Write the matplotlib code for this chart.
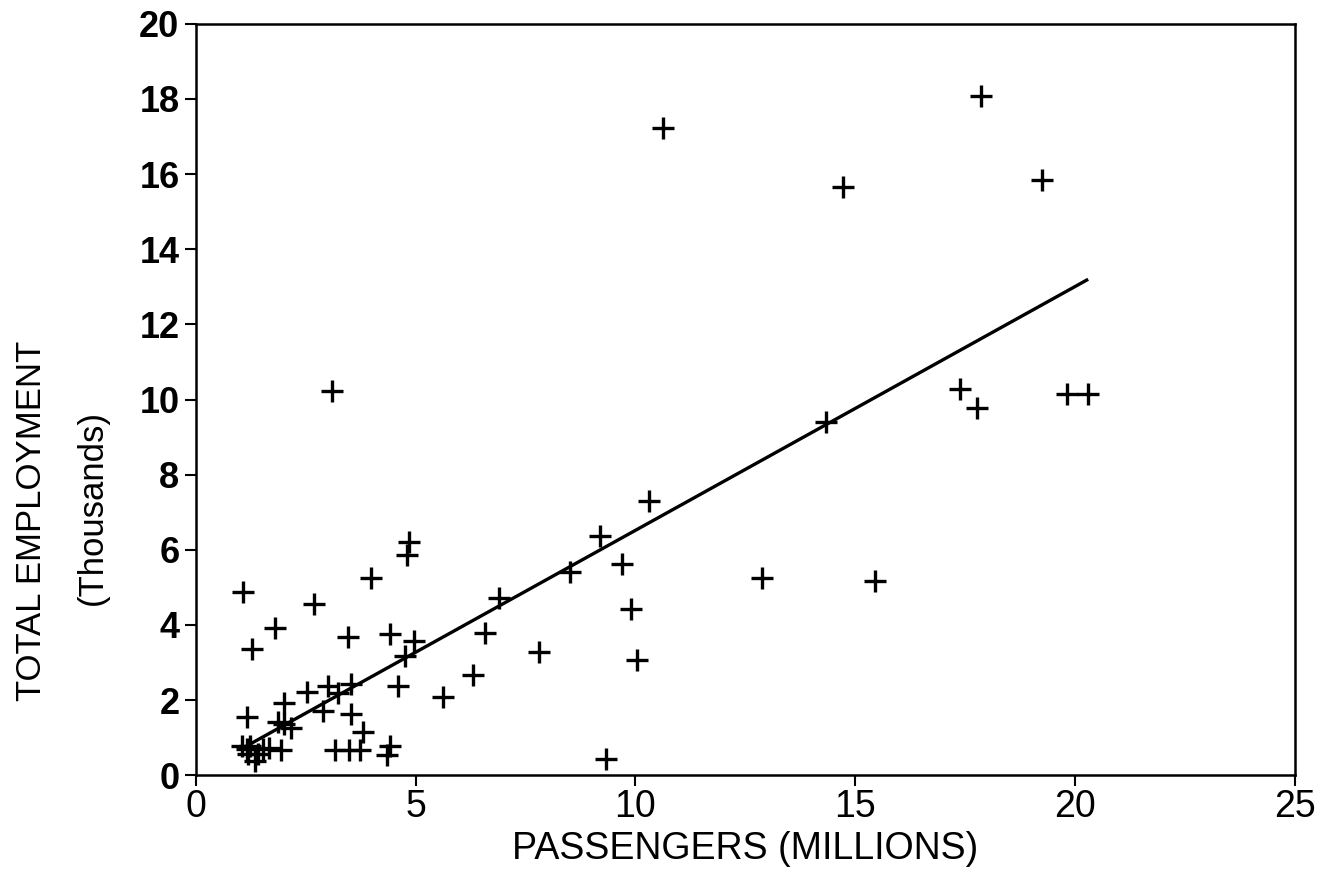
import matplotlib
matplotlib.use('Agg')
import matplotlib.pyplot as plt

# passengers (millions) vs total employment (thousands)
passengers = [10.63, 14.73, 17.87, 19.26, 17.39, 17.77, 19.83, 20.30,
              3.10, 14.33, 12.87, 15.45, 10.30, 9.19, 9.70, 8.52, 9.89, 10.03,
              6.89, 6.58, 7.81, 6.31, 5.63, 9.32,
              1.06, 1.80, 1.27, 2.69, 3.98, 4.85, 4.79, 3.45, 4.42, 4.97, 4.76,
              4.59, 3.53, 3.00, 3.22, 2.52, 2.01, 2.89, 3.52, 1.15, 1.86, 1.99,
              2.16, 3.79, 3.47, 3.17, 3.72, 4.42, 4.34, 1.94, 1.04, 1.15, 1.23,
              1.53, 1.42, 1.33, 1.19, 1.66]
employment = [17.24, 15.67, 18.07, 15.85, 10.29, 9.78, 10.15, 10.15,
              10.24, 9.39, 5.24, 5.16, 7.31, 6.37, 5.62, 5.42, 4.42, 3.06,
              4.73, 3.80, 3.28, 2.67, 2.09, 0.43,
              4.88, 3.91, 3.36, 4.56, 5.26, 6.21, 5.85, 3.68, 3.75, 3.57, 3.17,
              2.38, 2.44, 2.38, 2.19, 2.21, 1.93, 1.70, 1.63, 1.56, 1.43, 1.36,
              1.27, 1.14, 0.68, 0.68, 0.68, 0.78, 0.53, 0.68, 0.77, 0.70, 0.79,
              0.70, 0.56, 0.38, 0.56, 0.73]

# fitted line ends as drawn
fit_x = [1.15, 20.27]
fit_y = [0.78, 13.18]

x_ticks = [0, 5, 10, 15, 20, 25]
y_ticks = [0, 2, 4, 6, 8, 10, 12, 14, 16, 18, 20]

plt.rcParams['font.family'] = ['Liberation Sans', 'DejaVu Sans']

fig = plt.figure(figsize=(13.25, 8.83), dpi=100)
ax = fig.add_axes([0.148, 0.122, 0.829, 0.851])

ax.plot(passengers, employment, linestyle='none', marker='+',
        markersize=16, markeredgewidth=2.4, color='black')
ax.plot(fit_x, fit_y, color='black', linewidth=2.4)

ax.set_xlim(0, 25)
ax.set_ylim(0, 20)
ax.set_xticks(x_ticks)
ax.set_yticks(y_ticks)
ax.tick_params(direction='out', length=8, width=1.5, pad=4)
ax.tick_params(axis='y', labelsize=26)
ax.tick_params(axis='x', labelsize=27, pad=2)
for lab in ax.get_yticklabels():
    lab.set_fontweight('bold')
for s in ax.spines.values():
    s.set_linewidth(1.8)

ax.set_xlabel('PASSENGERS (MILLIONS)', fontsize=27, labelpad=4)
fig.text(0.024, 0.41, 'TOTAL EMPLOYMENT', rotation=90, fontsize=25,
         ha='center', va='center')
fig.text(0.070, 0.425, '(Thousands)', rotation=90, fontsize=25,
         ha='center', va='center')

fig.savefig('out.png', dpi=100)
